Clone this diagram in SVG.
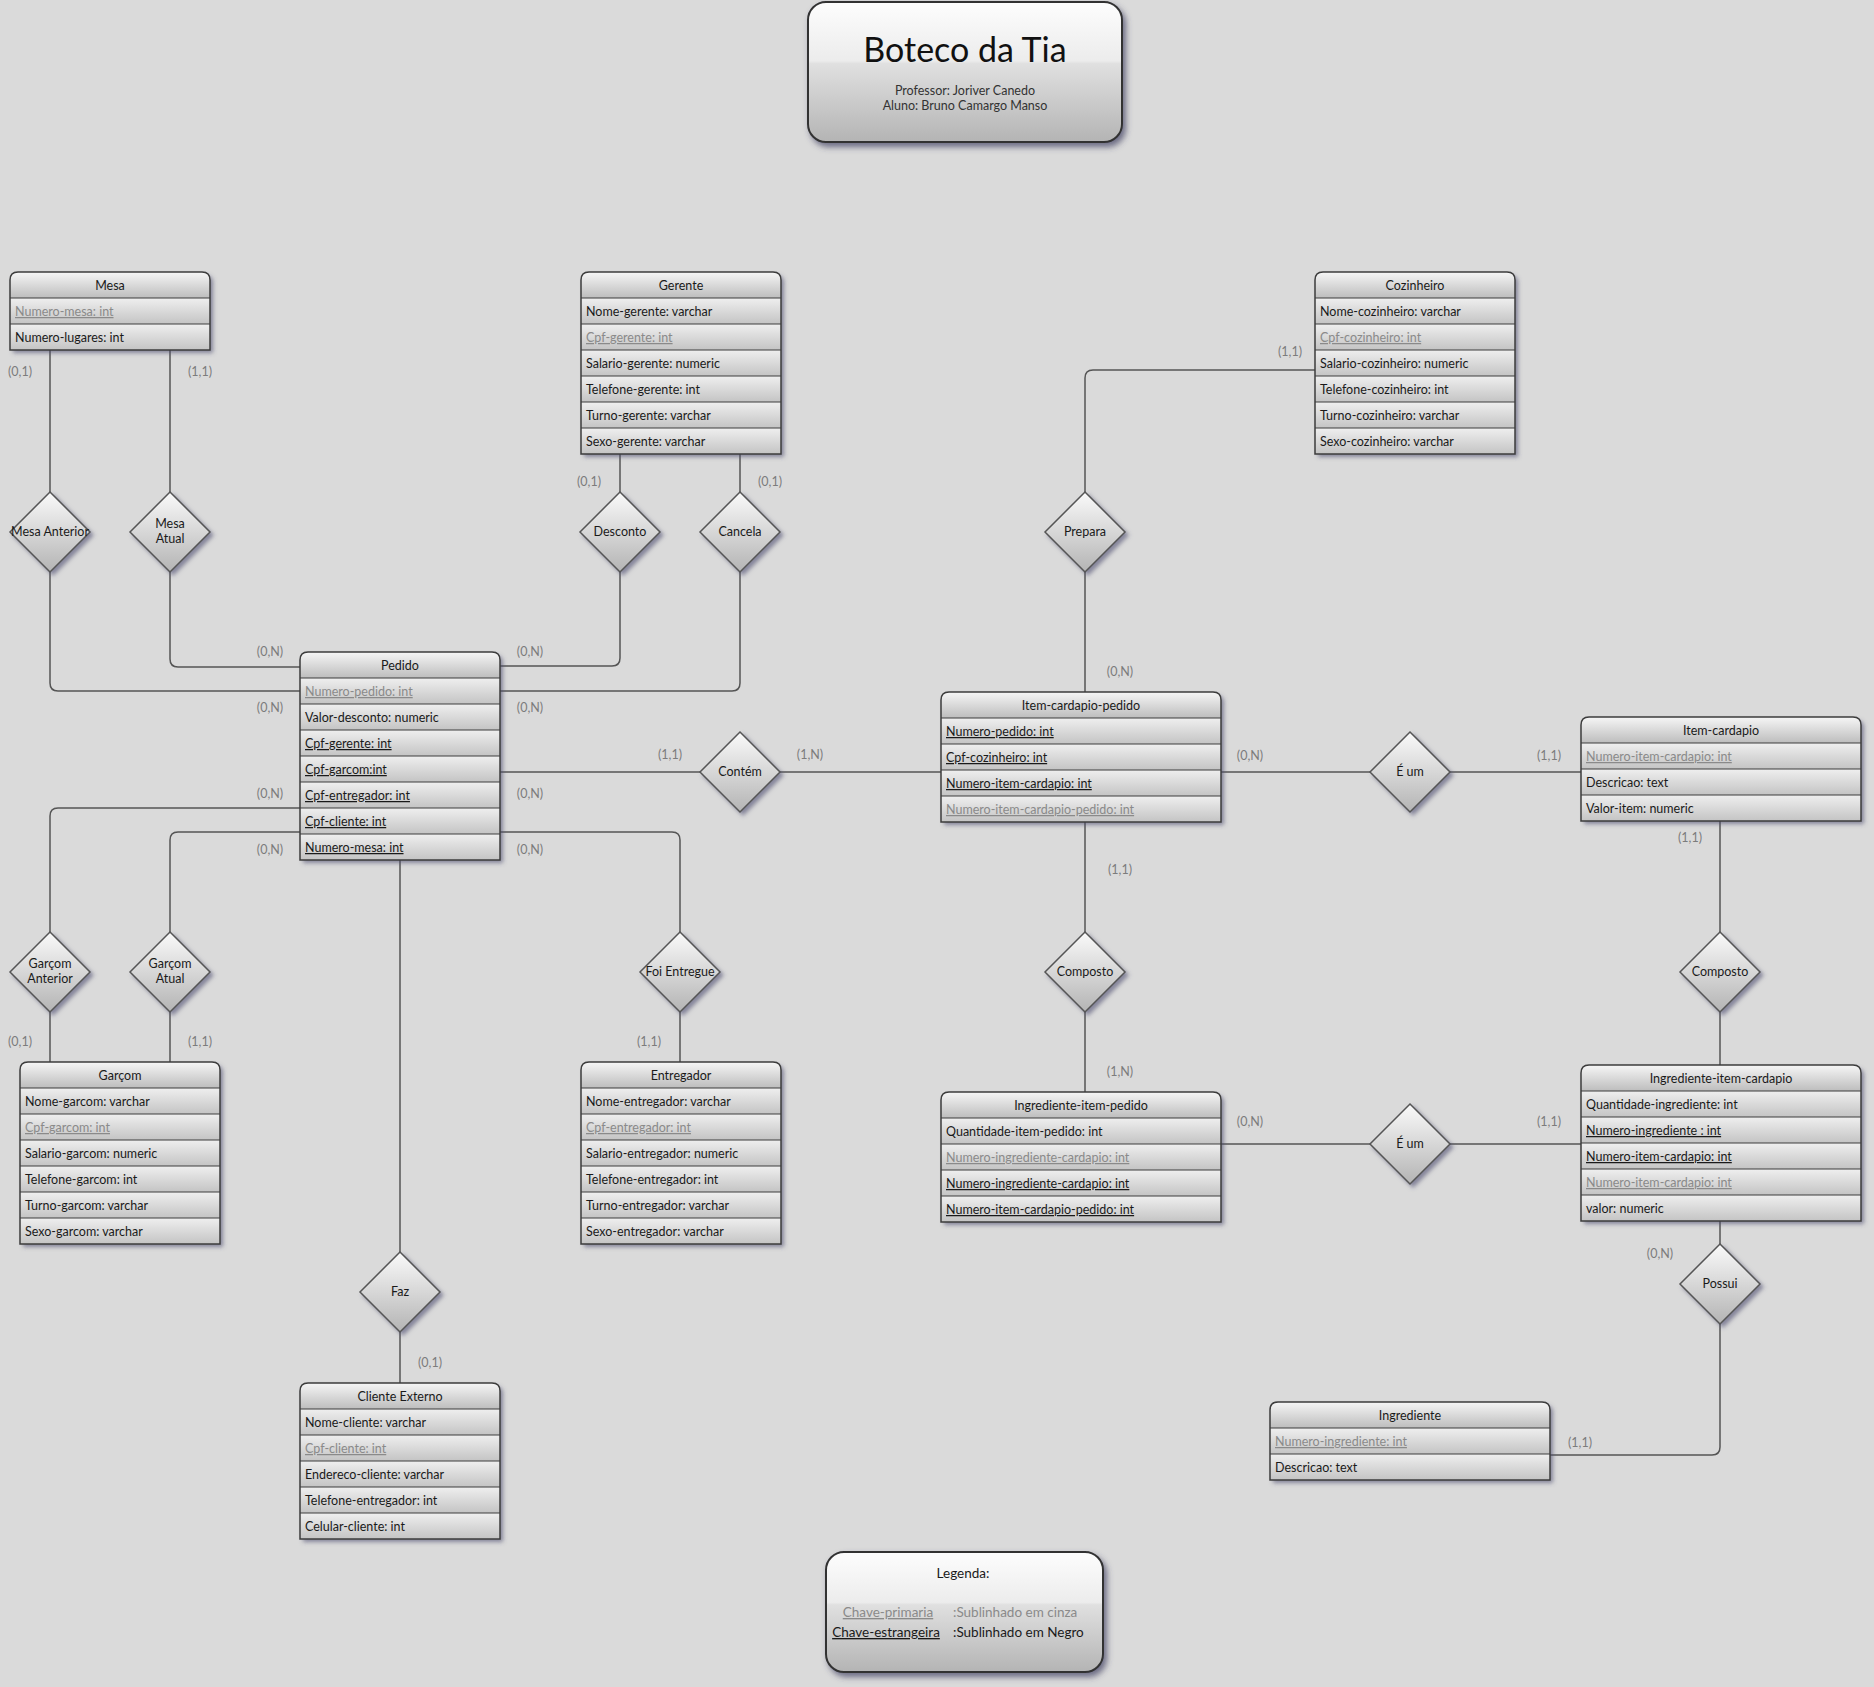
<svg xmlns="http://www.w3.org/2000/svg" width="1874" height="1687" viewBox="0 0 1874 1687">
<defs>
<linearGradient id="ghd" x1="0" y1="0" x2="0" y2="1"><stop offset="0" stop-color="#f6f6f6"/><stop offset="1" stop-color="#bdbdbd"/></linearGradient>
<linearGradient id="grw" x1="0" y1="0" x2="0" y2="1"><stop offset="0" stop-color="#efefef"/><stop offset="1" stop-color="#c4c4c4"/></linearGradient>
<linearGradient id="gdm" x1="0" y1="0" x2="0" y2="1"><stop offset="0" stop-color="#fafafa"/><stop offset="1" stop-color="#b4b4b4"/></linearGradient>
<linearGradient id="gbx" x1="0" y1="0" x2="0" y2="1"><stop offset="0" stop-color="#fdfdfd"/><stop offset="0.42" stop-color="#ececec"/><stop offset="0.44" stop-color="#e0e0e0"/><stop offset="1" stop-color="#b4b4b4"/></linearGradient>
<filter id="sh" x="-10%" y="-10%" width="125%" height="130%"><feDropShadow dx="3" dy="3" stdDeviation="2" flood-color="#4c4c6e" flood-opacity="0.6"/></filter>
<filter id="shb" x="-10%" y="-10%" width="125%" height="130%"><feDropShadow dx="3" dy="4" stdDeviation="3" flood-color="#3c3c5e" flood-opacity="0.7"/></filter>
</defs>
<style>
.t{font-family:Lato,"Liberation Sans",sans-serif;font-size:12.5px;fill:#1a1a1a}
.h{text-anchor:middle}
.pk{fill:#8a8a8a;text-decoration:underline}
.fk{text-decoration:underline}
.c{fill:#7c7c7c;text-anchor:middle}
.lg{font-size:13.5px}
.bg{fill:#cccccc;filter:url(#sh)}
.hd{fill:url(#ghd)}
.rw{fill:url(#grw)}
.sep{stroke:#3c3c3c;stroke-width:1;fill:none}
.ol{fill:none;stroke:#3c3c3c;stroke-width:1.5}
.dm{fill:url(#gdm);stroke:#555;stroke-width:1.5;filter:url(#sh)}
.ln{stroke:#555;stroke-width:1.5;fill:none}
.bx{fill:url(#gbx);stroke:#333;stroke-width:2;filter:url(#shb)}
</style>
<rect width="1874" height="1687" fill="#dadada"/>

<g id="titulo">
<rect class="bx" x="808" y="2" width="314" height="140" rx="18"/>
<text class="t h" x="965" y="62" style="font-size:34px;fill:#111">Boteco da Tia</text>
<text class="t h" x="965" y="95" style="fill:#333">Professor: Joriver Canedo</text>
<text class="t h" x="965" y="110" style="fill:#333">Aluno: Bruno Camargo Manso</text>
</g>

<g id="connectors">
<path class="ln" d="M50,349 V492"/>
<path class="ln" d="M50,572 V683 Q50,691 58,691 H300"/>
<path class="ln" d="M170,349 V492"/>
<path class="ln" d="M170,572 V659 Q170,667 178,667 H300"/>
<path class="ln" d="M620,454 V492"/>
<path class="ln" d="M620,572 V658 Q620,666 612,666 H500"/>
<path class="ln" d="M740,454 V492"/>
<path class="ln" d="M740,572 V683 Q740,691 732,691 H500"/>
<path class="ln" d="M1315,370 H1093 Q1085,370 1085,378 V492"/>
<path class="ln" d="M1085,572 V692"/>
<path class="ln" d="M500,772 H700"/>
<path class="ln" d="M780,772 H941"/>
<path class="ln" d="M1221,772 H1370"/>
<path class="ln" d="M1450,772 H1581"/>
<path class="ln" d="M300,808 H58 Q50,808 50,816 V932"/>
<path class="ln" d="M50,1012 V1062"/>
<path class="ln" d="M300,832 H178 Q170,832 170,840 V932"/>
<path class="ln" d="M170,1012 V1062"/>
<path class="ln" d="M500,832 H672 Q680,832 680,840 V932"/>
<path class="ln" d="M680,1012 V1062"/>
<path class="ln" d="M400,860 V1252"/>
<path class="ln" d="M400,1332 V1383"/>
<path class="ln" d="M1085,822 V932"/>
<path class="ln" d="M1085,1012 V1092"/>
<path class="ln" d="M1720,821 V932"/>
<path class="ln" d="M1720,1012 V1065"/>
<path class="ln" d="M1221,1144 H1370"/>
<path class="ln" d="M1450,1144 H1581"/>
<path class="ln" d="M1720,1221 V1244"/>
<path class="ln" d="M1720,1324 V1447 Q1720,1455 1712,1455 H1550"/>
</g>

<g id="cardinalidades">
<text class="t c" x="20" y="376">(0,1)</text>
<text class="t c" x="200" y="376">(1,1)</text>
<text class="t c" x="589" y="486">(0,1)</text>
<text class="t c" x="770" y="486">(0,1)</text>
<text class="t c" x="1290" y="356">(1,1)</text>
<text class="t c" x="270" y="656">(0,N)</text>
<text class="t c" x="530" y="656">(0,N)</text>
<text class="t c" x="270" y="712">(0,N)</text>
<text class="t c" x="530" y="712">(0,N)</text>
<text class="t c" x="670" y="759">(1,1)</text>
<text class="t c" x="810" y="759">(1,N)</text>
<text class="t c" x="1120" y="676">(0,N)</text>
<text class="t c" x="1250" y="760">(0,N)</text>
<text class="t c" x="1549" y="760">(1,1)</text>
<text class="t c" x="1690" y="842">(1,1)</text>
<text class="t c" x="270" y="798">(0,N)</text>
<text class="t c" x="530" y="798">(0,N)</text>
<text class="t c" x="270" y="854">(0,N)</text>
<text class="t c" x="530" y="854">(0,N)</text>
<text class="t c" x="1120" y="874">(1,1)</text>
<text class="t c" x="20" y="1046">(0,1)</text>
<text class="t c" x="200" y="1046">(1,1)</text>
<text class="t c" x="649" y="1046">(1,1)</text>
<text class="t c" x="1120" y="1076">(1,N)</text>
<text class="t c" x="1250" y="1126">(0,N)</text>
<text class="t c" x="1549" y="1126">(1,1)</text>
<text class="t c" x="1660" y="1258">(0,N)</text>
<text class="t c" x="430" y="1367">(0,1)</text>
<text class="t c" x="1580" y="1447">(1,1)</text>
</g>

<g id="mesa" transform="translate(10,272)">
<path class="bg" d="M0,8 Q0,0 8,0 H192 Q200,0 200,8 V78 H0 Z"/>
<path class="hd" d="M0,26 V8 Q0,0 8,0 H192 Q200,0 200,8 V26 Z"/>
<rect class="rw" y="26" width="200" height="26"/><rect class="rw" y="52" width="200" height="26"/>
<path class="sep" d="M0,26 H200 M0,52 H200"/>
<path class="ol" d="M0,8 Q0,0 8,0 H192 Q200,0 200,8 V78 H0 Z"/>
<text class="t h" x="100" y="18">Mesa</text>
<text class="t pk" x="5" y="44">Numero-mesa: int</text>
<text class="t" x="5" y="70">Numero-lugares: int</text>
</g>

<g id="gerente" transform="translate(581,272)">
<path class="bg" d="M0,8 Q0,0 8,0 H192 Q200,0 200,8 V182 H0 Z"/>
<path class="hd" d="M0,26 V8 Q0,0 8,0 H192 Q200,0 200,8 V26 Z"/>
<rect class="rw" y="26" width="200" height="26"/><rect class="rw" y="52" width="200" height="26"/><rect class="rw" y="78" width="200" height="26"/><rect class="rw" y="104" width="200" height="26"/><rect class="rw" y="130" width="200" height="26"/><rect class="rw" y="156" width="200" height="26"/>
<path class="sep" d="M0,26 H200 M0,52 H200 M0,78 H200 M0,104 H200 M0,130 H200 M0,156 H200"/>
<path class="ol" d="M0,8 Q0,0 8,0 H192 Q200,0 200,8 V182 H0 Z"/>
<text class="t h" x="100" y="18">Gerente</text>
<text class="t" x="5" y="44">Nome-gerente: varchar</text>
<text class="t pk" x="5" y="70">Cpf-gerente: int</text>
<text class="t" x="5" y="96">Salario-gerente: numeric</text>
<text class="t" x="5" y="122">Telefone-gerente: int</text>
<text class="t" x="5" y="148">Turno-gerente: varchar</text>
<text class="t" x="5" y="174">Sexo-gerente: varchar</text>
</g>

<g id="cozinheiro" transform="translate(1315,272)">
<path class="bg" d="M0,8 Q0,0 8,0 H192 Q200,0 200,8 V182 H0 Z"/>
<path class="hd" d="M0,26 V8 Q0,0 8,0 H192 Q200,0 200,8 V26 Z"/>
<rect class="rw" y="26" width="200" height="26"/><rect class="rw" y="52" width="200" height="26"/><rect class="rw" y="78" width="200" height="26"/><rect class="rw" y="104" width="200" height="26"/><rect class="rw" y="130" width="200" height="26"/><rect class="rw" y="156" width="200" height="26"/>
<path class="sep" d="M0,26 H200 M0,52 H200 M0,78 H200 M0,104 H200 M0,130 H200 M0,156 H200"/>
<path class="ol" d="M0,8 Q0,0 8,0 H192 Q200,0 200,8 V182 H0 Z"/>
<text class="t h" x="100" y="18">Cozinheiro</text>
<text class="t" x="5" y="44">Nome-cozinheiro: varchar</text>
<text class="t pk" x="5" y="70">Cpf-cozinheiro: int</text>
<text class="t" x="5" y="96">Salario-cozinheiro: numeric</text>
<text class="t" x="5" y="122">Telefone-cozinheiro: int</text>
<text class="t" x="5" y="148">Turno-cozinheiro: varchar</text>
<text class="t" x="5" y="174">Sexo-cozinheiro: varchar</text>
</g>

<g id="pedido" transform="translate(300,652)">
<path class="bg" d="M0,8 Q0,0 8,0 H192 Q200,0 200,8 V208 H0 Z"/>
<path class="hd" d="M0,26 V8 Q0,0 8,0 H192 Q200,0 200,8 V26 Z"/>
<rect class="rw" y="26" width="200" height="26"/><rect class="rw" y="52" width="200" height="26"/><rect class="rw" y="78" width="200" height="26"/><rect class="rw" y="104" width="200" height="26"/><rect class="rw" y="130" width="200" height="26"/><rect class="rw" y="156" width="200" height="26"/><rect class="rw" y="182" width="200" height="26"/>
<path class="sep" d="M0,26 H200 M0,52 H200 M0,78 H200 M0,104 H200 M0,130 H200 M0,156 H200 M0,182 H200"/>
<path class="ol" d="M0,8 Q0,0 8,0 H192 Q200,0 200,8 V208 H0 Z"/>
<text class="t h" x="100" y="18">Pedido</text>
<text class="t pk" x="5" y="44">Numero-pedido: int</text>
<text class="t" x="5" y="70">Valor-desconto: numeric</text>
<text class="t fk" x="5" y="96">Cpf-gerente: int</text>
<text class="t fk" x="5" y="122">Cpf-garcom:int</text>
<text class="t fk" x="5" y="148">Cpf-entregador: int</text>
<text class="t fk" x="5" y="174">Cpf-cliente: int</text>
<text class="t fk" x="5" y="200">Numero-mesa: int</text>
</g>

<g id="item-cardapio-pedido" transform="translate(941,692)">
<path class="bg" d="M0,8 Q0,0 8,0 H272 Q280,0 280,8 V130 H0 Z"/>
<path class="hd" d="M0,26 V8 Q0,0 8,0 H272 Q280,0 280,8 V26 Z"/>
<rect class="rw" y="26" width="280" height="26"/><rect class="rw" y="52" width="280" height="26"/><rect class="rw" y="78" width="280" height="26"/><rect class="rw" y="104" width="280" height="26"/>
<path class="sep" d="M0,26 H280 M0,52 H280 M0,78 H280 M0,104 H280"/>
<path class="ol" d="M0,8 Q0,0 8,0 H272 Q280,0 280,8 V130 H0 Z"/>
<text class="t h" x="140" y="18">Item-cardapio-pedido</text>
<text class="t fk" x="5" y="44">Numero-pedido: int</text>
<text class="t fk" x="5" y="70">Cpf-cozinheiro: int</text>
<text class="t fk" x="5" y="96">Numero-item-cardapio: int</text>
<text class="t pk" x="5" y="122">Numero-item-cardapio-pedido: int</text>
</g>

<g id="item-cardapio" transform="translate(1581,717)">
<path class="bg" d="M0,8 Q0,0 8,0 H272 Q280,0 280,8 V104 H0 Z"/>
<path class="hd" d="M0,26 V8 Q0,0 8,0 H272 Q280,0 280,8 V26 Z"/>
<rect class="rw" y="26" width="280" height="26"/><rect class="rw" y="52" width="280" height="26"/><rect class="rw" y="78" width="280" height="26"/>
<path class="sep" d="M0,26 H280 M0,52 H280 M0,78 H280"/>
<path class="ol" d="M0,8 Q0,0 8,0 H272 Q280,0 280,8 V104 H0 Z"/>
<text class="t h" x="140" y="18">Item-cardapio</text>
<text class="t pk" x="5" y="44">Numero-item-cardapio: int</text>
<text class="t" x="5" y="70">Descricao: text</text>
<text class="t" x="5" y="96">Valor-item: numeric</text>
</g>

<g id="garcom" transform="translate(20,1062)">
<path class="bg" d="M0,8 Q0,0 8,0 H192 Q200,0 200,8 V182 H0 Z"/>
<path class="hd" d="M0,26 V8 Q0,0 8,0 H192 Q200,0 200,8 V26 Z"/>
<rect class="rw" y="26" width="200" height="26"/><rect class="rw" y="52" width="200" height="26"/><rect class="rw" y="78" width="200" height="26"/><rect class="rw" y="104" width="200" height="26"/><rect class="rw" y="130" width="200" height="26"/><rect class="rw" y="156" width="200" height="26"/>
<path class="sep" d="M0,26 H200 M0,52 H200 M0,78 H200 M0,104 H200 M0,130 H200 M0,156 H200"/>
<path class="ol" d="M0,8 Q0,0 8,0 H192 Q200,0 200,8 V182 H0 Z"/>
<text class="t h" x="100" y="18">Garçom</text>
<text class="t" x="5" y="44">Nome-garcom: varchar</text>
<text class="t pk" x="5" y="70">Cpf-garcom: int</text>
<text class="t" x="5" y="96">Salario-garcom: numeric</text>
<text class="t" x="5" y="122">Telefone-garcom: int</text>
<text class="t" x="5" y="148">Turno-garcom: varchar</text>
<text class="t" x="5" y="174">Sexo-garcom: varchar</text>
</g>

<g id="entregador" transform="translate(581,1062)">
<path class="bg" d="M0,8 Q0,0 8,0 H192 Q200,0 200,8 V182 H0 Z"/>
<path class="hd" d="M0,26 V8 Q0,0 8,0 H192 Q200,0 200,8 V26 Z"/>
<rect class="rw" y="26" width="200" height="26"/><rect class="rw" y="52" width="200" height="26"/><rect class="rw" y="78" width="200" height="26"/><rect class="rw" y="104" width="200" height="26"/><rect class="rw" y="130" width="200" height="26"/><rect class="rw" y="156" width="200" height="26"/>
<path class="sep" d="M0,26 H200 M0,52 H200 M0,78 H200 M0,104 H200 M0,130 H200 M0,156 H200"/>
<path class="ol" d="M0,8 Q0,0 8,0 H192 Q200,0 200,8 V182 H0 Z"/>
<text class="t h" x="100" y="18">Entregador</text>
<text class="t" x="5" y="44">Nome-entregador: varchar</text>
<text class="t pk" x="5" y="70">Cpf-entregador: int</text>
<text class="t" x="5" y="96">Salario-entregador: numeric</text>
<text class="t" x="5" y="122">Telefone-entregador: int</text>
<text class="t" x="5" y="148">Turno-entregador: varchar</text>
<text class="t" x="5" y="174">Sexo-entregador: varchar</text>
</g>

<g id="cliente-externo" transform="translate(300,1383)">
<path class="bg" d="M0,8 Q0,0 8,0 H192 Q200,0 200,8 V156 H0 Z"/>
<path class="hd" d="M0,26 V8 Q0,0 8,0 H192 Q200,0 200,8 V26 Z"/>
<rect class="rw" y="26" width="200" height="26"/><rect class="rw" y="52" width="200" height="26"/><rect class="rw" y="78" width="200" height="26"/><rect class="rw" y="104" width="200" height="26"/><rect class="rw" y="130" width="200" height="26"/>
<path class="sep" d="M0,26 H200 M0,52 H200 M0,78 H200 M0,104 H200 M0,130 H200"/>
<path class="ol" d="M0,8 Q0,0 8,0 H192 Q200,0 200,8 V156 H0 Z"/>
<text class="t h" x="100" y="18">Cliente Externo</text>
<text class="t" x="5" y="44">Nome-cliente: varchar</text>
<text class="t pk" x="5" y="70">Cpf-cliente: int</text>
<text class="t" x="5" y="96">Endereco-cliente: varchar</text>
<text class="t" x="5" y="122">Telefone-entregador: int</text>
<text class="t" x="5" y="148">Celular-cliente: int</text>
</g>

<g id="ingrediente-item-pedido" transform="translate(941,1092)">
<path class="bg" d="M0,8 Q0,0 8,0 H272 Q280,0 280,8 V130 H0 Z"/>
<path class="hd" d="M0,26 V8 Q0,0 8,0 H272 Q280,0 280,8 V26 Z"/>
<rect class="rw" y="26" width="280" height="26"/><rect class="rw" y="52" width="280" height="26"/><rect class="rw" y="78" width="280" height="26"/><rect class="rw" y="104" width="280" height="26"/>
<path class="sep" d="M0,26 H280 M0,52 H280 M0,78 H280 M0,104 H280"/>
<path class="ol" d="M0,8 Q0,0 8,0 H272 Q280,0 280,8 V130 H0 Z"/>
<text class="t h" x="140" y="18">Ingrediente-item-pedido</text>
<text class="t" x="5" y="44">Quantidade-item-pedido: int</text>
<text class="t pk" x="5" y="70">Numero-ingrediente-cardapio: int</text>
<text class="t fk" x="5" y="96">Numero-ingrediente-cardapio: int</text>
<text class="t fk" x="5" y="122">Numero-item-cardapio-pedido: int</text>
</g>

<g id="ingrediente-item-cardapio" transform="translate(1581,1065)">
<path class="bg" d="M0,8 Q0,0 8,0 H272 Q280,0 280,8 V156 H0 Z"/>
<path class="hd" d="M0,26 V8 Q0,0 8,0 H272 Q280,0 280,8 V26 Z"/>
<rect class="rw" y="26" width="280" height="26"/><rect class="rw" y="52" width="280" height="26"/><rect class="rw" y="78" width="280" height="26"/><rect class="rw" y="104" width="280" height="26"/><rect class="rw" y="130" width="280" height="26"/>
<path class="sep" d="M0,26 H280 M0,52 H280 M0,78 H280 M0,104 H280 M0,130 H280"/>
<path class="ol" d="M0,8 Q0,0 8,0 H272 Q280,0 280,8 V156 H0 Z"/>
<text class="t h" x="140" y="18">Ingrediente-item-cardapio</text>
<text class="t" x="5" y="44">Quantidade-ingrediente: int</text>
<text class="t fk" x="5" y="70">Numero-ingrediente : int</text>
<text class="t fk" x="5" y="96">Numero-item-cardapio: int</text>
<text class="t pk" x="5" y="122">Numero-item-cardapio: int</text>
<text class="t" x="5" y="148">valor: numeric</text>
</g>

<g id="ingrediente" transform="translate(1270,1402)">
<path class="bg" d="M0,8 Q0,0 8,0 H272 Q280,0 280,8 V78 H0 Z"/>
<path class="hd" d="M0,26 V8 Q0,0 8,0 H272 Q280,0 280,8 V26 Z"/>
<rect class="rw" y="26" width="280" height="26"/><rect class="rw" y="52" width="280" height="26"/>
<path class="sep" d="M0,26 H280 M0,52 H280"/>
<path class="ol" d="M0,8 Q0,0 8,0 H272 Q280,0 280,8 V78 H0 Z"/>
<text class="t h" x="140" y="18">Ingrediente</text>
<text class="t pk" x="5" y="44">Numero-ingrediente: int</text>
<text class="t" x="5" y="70">Descricao: text</text>
</g>

<g id="rel-mesa-anterior" transform="translate(50,532)"><polygon class="dm" points="0,-40 40,0 0,40 -40,0"/><text class="t h" y="4">Mesa Anterior</text></g>
<g id="rel-mesa-atual" transform="translate(170,532)"><polygon class="dm" points="0,-40 40,0 0,40 -40,0"/><text class="t h" y="-4">Mesa</text><text class="t h" y="11">Atual</text></g>
<g id="rel-desconto" transform="translate(620,532)"><polygon class="dm" points="0,-40 40,0 0,40 -40,0"/><text class="t h" y="4">Desconto</text></g>
<g id="rel-cancela" transform="translate(740,532)"><polygon class="dm" points="0,-40 40,0 0,40 -40,0"/><text class="t h" y="4">Cancela</text></g>
<g id="rel-prepara" transform="translate(1085,532)"><polygon class="dm" points="0,-40 40,0 0,40 -40,0"/><text class="t h" y="4">Prepara</text></g>
<g id="rel-contem" transform="translate(740,772)"><polygon class="dm" points="0,-40 40,0 0,40 -40,0"/><text class="t h" y="4">Contém</text></g>
<g id="rel-e-um-1" transform="translate(1410,772)"><polygon class="dm" points="0,-40 40,0 0,40 -40,0"/><text class="t h" y="4">É um</text></g>
<g id="rel-garcom-anterior" transform="translate(50,972)"><polygon class="dm" points="0,-40 40,0 0,40 -40,0"/><text class="t h" y="-4">Garçom</text><text class="t h" y="11">Anterior</text></g>
<g id="rel-garcom-atual" transform="translate(170,972)"><polygon class="dm" points="0,-40 40,0 0,40 -40,0"/><text class="t h" y="-4">Garçom</text><text class="t h" y="11">Atual</text></g>
<g id="rel-foi-entregue" transform="translate(680,972)"><polygon class="dm" points="0,-40 40,0 0,40 -40,0"/><text class="t h" y="4">Foi Entregue</text></g>
<g id="rel-composto-1" transform="translate(1085,972)"><polygon class="dm" points="0,-40 40,0 0,40 -40,0"/><text class="t h" y="4">Composto</text></g>
<g id="rel-composto-2" transform="translate(1720,972)"><polygon class="dm" points="0,-40 40,0 0,40 -40,0"/><text class="t h" y="4">Composto</text></g>
<g id="rel-e-um-2" transform="translate(1410,1144)"><polygon class="dm" points="0,-40 40,0 0,40 -40,0"/><text class="t h" y="4">É um</text></g>
<g id="rel-possui" transform="translate(1720,1284)"><polygon class="dm" points="0,-40 40,0 0,40 -40,0"/><text class="t h" y="4">Possui</text></g>
<g id="rel-faz" transform="translate(400,1292)"><polygon class="dm" points="0,-40 40,0 0,40 -40,0"/><text class="t h" y="4">Faz</text></g>

<g id="legenda">
<rect class="bx" x="826" y="1552" width="277" height="120" rx="18"/>
<text class="t h lg" x="963" y="1578">Legenda:</text>
<text class="t h pk lg" x="888" y="1617">Chave-primaria</text>
<text class="t h fk lg" x="886" y="1637">Chave-estrangeira</text>
<text class="t lg" x="953" y="1617" style="fill:#8a8a8a">:Sublinhado em cinza</text>
<text class="t lg" x="953" y="1637">:Sublinhado em Negro</text>
</g>
</svg>
